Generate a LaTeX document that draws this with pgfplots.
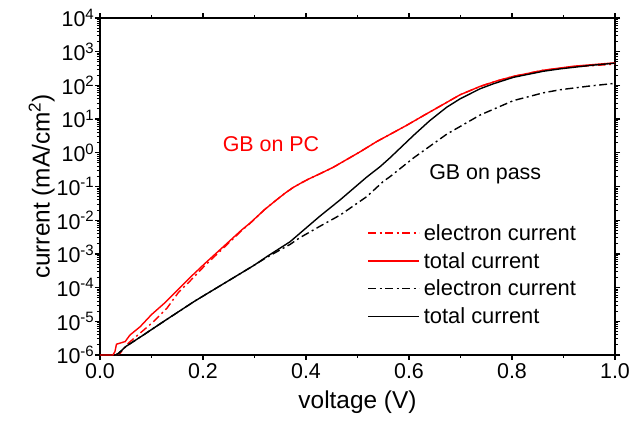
\documentclass[border=0pt]{standalone}
\usepackage{fontspec}
\setmainfont{Liberation Sans}
\usepackage{pgfplots}
\pgfplotsset{compat=1.18}
\definecolor{myred}{RGB}{255,0,0}
\tikzset{dashdot/.style={dash pattern=on 8bp off 3.5bp on 2bp off 3.5bp}}
\begin{document}
\begin{tikzpicture}
\useasboundingbox (-100bp,-69bp) rectangle (532bp,355bp);
\begin{axis}[
  scale only axis, width=515bp, height=337bp,
  at={(0,0)}, anchor=south west,
  ymode=log, xmin=0, xmax=1, ymin=1e-6, ymax=1e4,
  xtick={0,0.2,0.4,0.6,0.8,1.0},
  minor xtick={0.1,0.3,0.5,0.7,0.9},
  xticklabels={0.0,0.2,0.4,0.6,0.8,1.0},
  ytick={1e-6,1e-5,1e-4,1e-3,1e-2,1e-1,1e0,1e1,1e2,1e3,1e4},
  minor ytick={2e-6,3e-6,4e-6,5e-6,6e-6,7e-6,8e-6,9e-6,
    2e-5,3e-5,4e-5,5e-5,6e-5,7e-5,8e-5,9e-5,
    2e-4,3e-4,4e-4,5e-4,6e-4,7e-4,8e-4,9e-4,
    2e-3,3e-3,4e-3,5e-3,6e-3,7e-3,8e-3,9e-3,
    2e-2,3e-2,4e-2,5e-2,6e-2,7e-2,8e-2,9e-2,
    0.2,0.3,0.4,0.5,0.6,0.7,0.8,0.9,
    2,3,4,5,6,7,8,9,
    20,30,40,50,60,70,80,90,
    200,300,400,500,600,700,800,900,
    2000,3000,4000,5000,6000,7000,8000,9000},
  yticklabels={10\textsuperscript{-6},10\textsuperscript{-5},10\textsuperscript{-4},10\textsuperscript{-3},10\textsuperscript{-2},10\textsuperscript{-1},10\textsuperscript{0},10\textsuperscript{1},10\textsuperscript{2},10\textsuperscript{3},10\textsuperscript{4}},
  tick pos=both,
  tick align=outside,
  major tick length=5bp, minor tick length=3bp,
  axis line style={line width=1.6bp},
  major tick style={line width=1.2bp, black},
  minor tick style={line width=1bp, black},
  ticklabel style={font=\fontsize{21.5}{25}\selectfont},
  yticklabel style={inner xsep=0.5bp},
  xlabel={voltage (V)}, ylabel={current (mA/cm\textsuperscript{2})},
  label style={font=\fontsize{24.5}{28}\selectfont},
  xlabel style={yshift=-5bp},
  ylabel style={yshift=-2bp},
  legend cell align=left,
  legend image code/.code={\draw[#1] (0bp,0bp) -- (51bp,0bp);},
  legend style={at={(0.513,0.40)}, anchor=north west, draw=none, fill=none,
    font=\fontsize{22}{26}\selectfont, row sep=6.5bp,
    nodes={inner xsep=4bp}},
]
\addlegendimage{myred, dashdot, line width=1.4bp}
\addlegendentry{electron current}
\addlegendimage{myred, solid, line width=1.4bp}
\addlegendentry{total current}
\addlegendimage{black, dashdot, line width=1.4bp}
\addlegendentry{electron current}
\addlegendimage{black, solid, line width=1.4bp}
\addlegendentry{total current}
\addplot[myred, dashdot, line width=1.4bp, forget plot] coordinates {
(0.030,1e-6) (0.039,1.12e-6) (0.055,2.24e-6) (0.081,4.90e-6) (0.104,9.77e-6)
(0.130,2.45e-5) (0.152,7.08e-5) (0.175,1.58e-4) (0.204,4.57e-4) (0.240,1.51e-3)
(0.275,4.90e-3) (0.291,7.94e-3) (0.320,2.09e-2) (0.345,4.27e-2) (0.360,6.46e-2)
(0.375,9.33e-2) (0.390,0.126) (0.405,0.166) (0.430,0.251) (0.453,0.372)
(0.479,0.631) (0.505,1.07) (0.537,2.14)
(0.566,3.72) (0.596,6.61) (0.630,13.2) (0.660,24.0) (0.699,52.5) (0.738,93.3)
(0.770,135) (0.803,186) (0.861,282) (0.920,355) (1.000,427)
};
\addplot[myred, solid, line width=1.4bp, forget plot] coordinates {
(0,1e-6) (0.025,1e-6) (0.029,1.26e-6) (0.032,2.09e-6) (0.049,2.51e-6) (0.058,3.89e-6)
(0.078,6.92e-6) (0.100,1.58e-5) (0.126,3.55e-5) (0.152,8.91e-5) (0.175,2.0e-4)
(0.204,5.25e-4) (0.240,1.66e-3) (0.275,5.13e-3) (0.291,8.13e-3) (0.320,2.09e-2)
(0.345,4.27e-2) (0.360,6.46e-2) (0.375,9.33e-2) (0.390,0.126) (0.405,0.166)
(0.430,0.251) (0.453,0.372) (0.479,0.631) (0.505,1.07) (0.537,2.14) (0.566,3.72)
(0.596,6.61) (0.630,13.2) (0.660,24.0) (0.699,52.5) (0.738,93.3) (0.770,135)
(0.803,186) (0.861,282) (0.920,372) (1.000,468)
};
\addplot[black, dashdot, line width=1.4bp, forget plot] coordinates {
(0.030,1e-6) (0.036,1.12e-6) (0.050,1.78e-6) (0.080,3.55e-6) (0.127,1.07e-5)
(0.184,3.98e-5) (0.249,1.58e-4) (0.300,4.68e-4) (0.324,7.94e-4) (0.369,1.91e-3)
(0.388,3.02e-3) (0.427,6.61e-3) (0.466,1.41e-2) (0.518,5.01e-2) (0.550,0.141)
(0.563,0.195) (0.609,0.708) (0.673,3.55) (0.738,13.2) (0.803,35.5) (0.861,60.3)
(0.893,74.1) (0.950,95.5) (1.000,115)
};
\addplot[black, solid, line width=1.4bp, forget plot] coordinates {
(0.030,1e-6) (0.036,1.12e-6) (0.050,1.78e-6) (0.080,3.55e-6) (0.127,1.07e-5)
(0.184,3.98e-5) (0.249,1.58e-4) (0.300,4.68e-4) (0.324,8.32e-4) (0.369,2.29e-3)
(0.388,4.07e-3) (0.427,1.32e-2) (0.466,3.98e-2) (0.518,0.191) (0.544,0.389)
(0.563,0.708) (0.596,2.14) (0.609,3.31) (0.640,8.91) (0.673,22.4) (0.699,39.8)
(0.738,79.4) (0.764,112) (0.803,174) (0.861,263) (0.893,309) (0.950,389) (1.000,457)
};
\node[myred, font=\fontsize{21.5}{25}\selectfont] at (axis cs:0.332,1.82) {GB on PC};
\node[black, font=\fontsize{21.5}{25}\selectfont] at (axis cs:0.748,0.235) {GB on pass};
\end{axis}
\end{tikzpicture}
\end{document}
